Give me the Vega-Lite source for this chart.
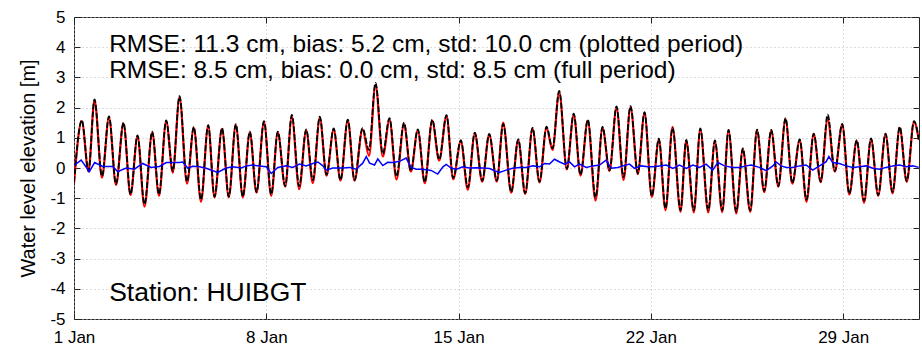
{
  "$schema": "https://vega.github.io/schema/vega-lite/v6.json",
  "autosize": "none",
  "width": 845,
  "height": 302,
  "padding": {"left": 74, "top": 17, "right": 3, "bottom": 34},
  "background": "white",
  "config": {
    "view": {"stroke": "#222", "strokeWidth": 1},
    "font": "Liberation Sans",
    "axis": {
      "labelFont": "Liberation Sans",
      "labelFontSize": 17,
      "labelColor": "#000",
      "titleFont": "Liberation Sans",
      "titleColor": "#000",
      "tickColor": "#222",
      "tickSize": -6,
      "domain": false,
      "gridColor": "#b8b8b8",
      "gridDash": [1, 3],
      "gridWidth": 1
    }
  },
  "datasets": {
    "tide": [
      {"t": 0, "mod": -0.48, "obs": -0.5},
      {"t": 0.284, "mod": 1.58, "obs": 1.55},
      {"t": 0.528, "mod": -0.1, "obs": -0.12},
      {"t": 0.746, "mod": 2.27, "obs": 2.25},
      {"t": 1.019, "mod": -0.27, "obs": -0.32},
      {"t": 1.274, "mod": 1.71, "obs": 1.68},
      {"t": 1.529, "mod": -0.53, "obs": -0.56},
      {"t": 1.802, "mod": 1.5, "obs": 1.48},
      {"t": 2.057, "mod": -0.87, "obs": -0.9},
      {"t": 2.312, "mod": 1.08, "obs": 1.05},
      {"t": 2.566, "mod": -1.2, "obs": -1.28},
      {"t": 2.847, "mod": 1.2, "obs": 1.17},
      {"t": 3.094, "mod": -0.87, "obs": -0.92},
      {"t": 3.356, "mod": 1.58, "obs": 1.55},
      {"t": 3.597, "mod": -0.1, "obs": -0.15},
      {"t": 3.841, "mod": 2.38, "obs": 2.35},
      {"t": 4.114, "mod": -0.45, "obs": -0.52},
      {"t": 4.361, "mod": 1.36, "obs": 1.33},
      {"t": 4.623, "mod": -1.05, "obs": -1.12},
      {"t": 4.885, "mod": 1.42, "obs": 1.4},
      {"t": 5.115, "mod": -0.95, "obs": -0.97},
      {"t": 5.388, "mod": 1.32, "obs": 1.3},
      {"t": 5.635, "mod": -0.95, "obs": -0.97},
      {"t": 5.89, "mod": 1.45, "obs": 1.43},
      {"t": 6.145, "mod": -0.95, "obs": -0.97},
      {"t": 6.4, "mod": 1.2, "obs": 1.18},
      {"t": 6.644, "mod": -0.8, "obs": -0.82},
      {"t": 6.917, "mod": 1.55, "obs": 1.53},
      {"t": 7.179, "mod": -0.87, "obs": -0.92},
      {"t": 7.419, "mod": 1.2, "obs": 1.18},
      {"t": 7.688, "mod": -0.6, "obs": -0.62},
      {"t": 7.929, "mod": 1.76, "obs": 1.7},
      {"t": 8.198, "mod": -0.6, "obs": -0.7},
      {"t": 8.453, "mod": 1.28, "obs": 1.25},
      {"t": 8.693, "mod": -0.4, "obs": -0.5},
      {"t": 8.948, "mod": 1.7, "obs": 1.66},
      {"t": 9.192, "mod": -0.22, "obs": -0.25},
      {"t": 9.454, "mod": 1.31, "obs": 1.28},
      {"t": 9.701, "mod": -0.4, "obs": -0.42},
      {"t": 9.967, "mod": 1.6, "obs": 1.58},
      {"t": 10.211, "mod": -0.4, "obs": -0.42},
      {"t": 10.502, "mod": 1.32, "obs": 1.28},
      {"t": 10.739, "mod": 0.6, "obs": 0.4},
      {"t": 10.976, "mod": 2.82, "obs": 2.75},
      {"t": 11.241, "mod": 0.47, "obs": 0.38},
      {"t": 11.485, "mod": 1.65, "obs": 1.6},
      {"t": 11.74, "mod": -0.28, "obs": -0.38},
      {"t": 12.013, "mod": 1.5, "obs": 1.45},
      {"t": 12.261, "mod": -0.1, "obs": -0.12},
      {"t": 12.515, "mod": 1.28, "obs": 1.25},
      {"t": 12.77, "mod": -0.47, "obs": -0.5},
      {"t": 13.04, "mod": 1.6, "obs": 1.57},
      {"t": 13.294, "mod": 0.28, "obs": 0.25},
      {"t": 13.56, "mod": 1.75, "obs": 1.72},
      {"t": 13.804, "mod": -0.33, "obs": -0.37},
      {"t": 14.081, "mod": 0.92, "obs": 0.88},
      {"t": 14.336, "mod": -0.64, "obs": -0.72},
      {"t": 14.59, "mod": 1.17, "obs": 1.14},
      {"t": 14.86, "mod": -0.42, "obs": -0.45},
      {"t": 15.115, "mod": 1.13, "obs": 1.1},
      {"t": 15.391, "mod": -0.42, "obs": -0.45},
      {"t": 15.624, "mod": 1.46, "obs": 1.5},
      {"t": 15.916, "mod": -0.79, "obs": -0.82},
      {"t": 16.171, "mod": 0.95, "obs": 0.92},
      {"t": 16.425, "mod": -0.83, "obs": -0.86},
      {"t": 16.691, "mod": 1.33, "obs": 1.3},
      {"t": 16.946, "mod": -0.45, "obs": -0.48},
      {"t": 17.2, "mod": 1.37, "obs": 1.33},
      {"t": 17.419, "mod": 0.65, "obs": 0.6},
      {"t": 17.663, "mod": 2.55, "obs": 2.52},
      {"t": 17.94, "mod": -0.02, "obs": -0.05},
      {"t": 18.191, "mod": 1.8, "obs": 1.77},
      {"t": 18.438, "mod": -0.22, "obs": -0.25},
      {"t": 18.704, "mod": 1.6, "obs": 1.57},
      {"t": 18.985, "mod": -0.98, "obs": -1.08},
      {"t": 19.239, "mod": 1.36, "obs": 1.33},
      {"t": 19.494, "mod": -0.08, "obs": -0.1},
      {"t": 19.749, "mod": 2.04, "obs": 2.0},
      {"t": 20.004, "mod": -0.3, "obs": -0.4},
      {"t": 20.259, "mod": 2.05, "obs": 2.02},
      {"t": 20.524, "mod": -0.18, "obs": -0.2},
      {"t": 20.768, "mod": 1.85, "obs": 1.82},
      {"t": 21.034, "mod": -0.93, "obs": -0.96},
      {"t": 21.289, "mod": 0.97, "obs": 0.94},
      {"t": 21.533, "mod": -1.34, "obs": -1.4},
      {"t": 21.788, "mod": 1.33, "obs": 1.36},
      {"t": 22.079, "mod": -1.4, "obs": -1.45},
      {"t": 22.286, "mod": 0.93, "obs": 0.9},
      {"t": 22.563, "mod": -1.4, "obs": -1.47},
      {"t": 22.799, "mod": 1.31, "obs": 1.28},
      {"t": 23.087, "mod": -1.4, "obs": -1.47},
      {"t": 23.331, "mod": 0.91, "obs": 0.88},
      {"t": 23.597, "mod": -1.4, "obs": -1.46},
      {"t": 23.826, "mod": 1.26, "obs": 1.24},
      {"t": 24.107, "mod": -1.45, "obs": -1.5},
      {"t": 24.347, "mod": 0.65, "obs": 0.62},
      {"t": 24.616, "mod": -1.4, "obs": -1.45},
      {"t": 24.864, "mod": 1.27, "obs": 1.25},
      {"t": 25.125, "mod": -0.76, "obs": -0.8},
      {"t": 25.381, "mod": 1.26, "obs": 1.24},
      {"t": 25.639, "mod": -0.6, "obs": -0.62},
      {"t": 25.901, "mod": 1.65, "obs": 1.62},
      {"t": 26.149, "mod": -0.5, "obs": -0.52},
      {"t": 26.418, "mod": 0.95, "obs": 0.92},
      {"t": 26.665, "mod": -1.05, "obs": -1.12},
      {"t": 26.927, "mod": 1.14, "obs": 1.12},
      {"t": 27.182, "mod": -0.45, "obs": -0.47},
      {"t": 27.436, "mod": 1.77, "obs": 1.62},
      {"t": 27.695, "mod": -0.1, "obs": -0.12},
      {"t": 27.965, "mod": 1.46, "obs": 1.43},
      {"t": 28.223, "mod": -0.85, "obs": -0.88},
      {"t": 28.493, "mod": 0.92, "obs": 0.9},
      {"t": 28.759, "mod": -1.08, "obs": -1.15},
      {"t": 29.013, "mod": 0.98, "obs": 0.96},
      {"t": 29.275, "mod": -0.9, "obs": -0.92},
      {"t": 29.541, "mod": 1.14, "obs": 1.12},
      {"t": 29.796, "mod": -0.8, "obs": -0.84},
      {"t": 30.059, "mod": 1.36, "obs": 1.33},
      {"t": 30.313, "mod": -0.43, "obs": -0.46},
      {"t": 30.579, "mod": 1.55, "obs": 1.53},
      {"t": 30.753, "mod": 0.95, "obs": 0.93}
    ],
    "resid": [
      {"t": 0.02, "r": 0.1}, {"t": 0.26, "r": 0.26}, {"t": 0.56, "r": -0.12}, {"t": 0.75, "r": 0.18},
      {"t": 1.05, "r": 0.05}, {"t": 1.41, "r": 0.05}, {"t": 1.59, "r": -0.12}, {"t": 1.9, "r": 0},
      {"t": 2.2, "r": -0.04}, {"t": 2.5, "r": 0.15}, {"t": 2.81, "r": 0.02}, {"t": 3.11, "r": 0.05},
      {"t": 3.36, "r": 0.18}, {"t": 3.84, "r": 0.18}, {"t": 3.96, "r": 0.2}, {"t": 4.14, "r": 0},
      {"t": 4.32, "r": 0.06}, {"t": 4.57, "r": 0.04}, {"t": 4.81, "r": -0.01}, {"t": 5.23, "r": -0.15},
      {"t": 5.54, "r": 0}, {"t": 5.78, "r": 0.04}, {"t": 6.09, "r": 0}, {"t": 6.27, "r": 0.07},
      {"t": 6.51, "r": 0.1}, {"t": 6.75, "r": 0.07}, {"t": 7.0, "r": 0.04}, {"t": 7.18, "r": -0.18},
      {"t": 7.42, "r": 0.02}, {"t": 7.72, "r": 0.07}, {"t": 7.96, "r": 0.02}, {"t": 8.21, "r": 0.13},
      {"t": 8.45, "r": 0.07}, {"t": 8.69, "r": 0.15}, {"t": 8.88, "r": 0.2}, {"t": 9.06, "r": 0.07},
      {"t": 9.18, "r": -0.07}, {"t": 9.42, "r": 0}, {"t": 9.79, "r": 0}, {"t": 10.03, "r": 0.02},
      {"t": 10.27, "r": -0.04}, {"t": 10.51, "r": 0.16}, {"t": 10.64, "r": 0.38}, {"t": 10.76, "r": 0.16},
      {"t": 10.94, "r": 0.1}, {"t": 11.06, "r": 0.3}, {"t": 11.24, "r": 0.08}, {"t": 11.42, "r": 0.19},
      {"t": 11.61, "r": 0.18}, {"t": 11.85, "r": 0.22}, {"t": 12.09, "r": 0.33}, {"t": 12.27, "r": 0.02},
      {"t": 12.46, "r": -0.04}, {"t": 12.7, "r": -0.04}, {"t": 13.0, "r": -0.08}, {"t": 13.24, "r": -0.2},
      {"t": 13.43, "r": 0.04}, {"t": 13.55, "r": 0.12}, {"t": 13.73, "r": 0}, {"t": 13.91, "r": -0.05},
      {"t": 14.15, "r": 0.04}, {"t": 14.4, "r": 0}, {"t": 14.64, "r": 0.01}, {"t": 14.88, "r": 0},
      {"t": 15.13, "r": -0.02}, {"t": 15.33, "r": -0.1}, {"t": 15.49, "r": -0.15}, {"t": 15.73, "r": -0.07},
      {"t": 15.97, "r": -0.01}, {"t": 16.22, "r": 0.02}, {"t": 16.46, "r": 0.02}, {"t": 16.7, "r": 0.07},
      {"t": 16.95, "r": 0.04}, {"t": 17.13, "r": 0.15}, {"t": 17.31, "r": 0.13}, {"t": 17.49, "r": 0.29},
      {"t": 17.68, "r": 0.2}, {"t": 17.86, "r": 0.13}, {"t": 18.04, "r": 0.2}, {"t": 18.22, "r": 0.04},
      {"t": 18.4, "r": 0.13}, {"t": 18.65, "r": 0.02}, {"t": 18.89, "r": 0.07}, {"t": 19.13, "r": 0.1},
      {"t": 19.37, "r": 0.26}, {"t": 19.56, "r": -0.01}, {"t": 19.8, "r": 0.02}, {"t": 19.98, "r": 0.07},
      {"t": 20.22, "r": 0.13}, {"t": 20.4, "r": -0.01}, {"t": 20.65, "r": 0.07}, {"t": 20.89, "r": 0.04},
      {"t": 21.07, "r": 0.04}, {"t": 21.31, "r": 0.07}, {"t": 21.56, "r": 0.1}, {"t": 21.8, "r": -0.01},
      {"t": 22.04, "r": 0.1}, {"t": 22.29, "r": -0.01}, {"t": 22.53, "r": 0.1}, {"t": 22.77, "r": 0.02},
      {"t": 23.01, "r": 0.13}, {"t": 23.25, "r": -0.07}, {"t": 23.44, "r": 0.18}, {"t": 23.68, "r": 0.07},
      {"t": 23.98, "r": 0.02}, {"t": 24.23, "r": 0.02}, {"t": 24.47, "r": 0.07}, {"t": 24.65, "r": 0.1},
      {"t": 24.95, "r": 0.02}, {"t": 25.2, "r": -0.09}, {"t": 25.44, "r": 0.07}, {"t": 25.56, "r": 0.2},
      {"t": 25.74, "r": 0.07}, {"t": 25.93, "r": 0.02}, {"t": 26.17, "r": 0.02}, {"t": 26.41, "r": 0.07},
      {"t": 26.65, "r": 0.1}, {"t": 26.89, "r": -0.07}, {"t": 27.14, "r": 0.07}, {"t": 27.38, "r": 0.21},
      {"t": 27.48, "r": 0.38}, {"t": 27.62, "r": 0.18}, {"t": 27.86, "r": 0.15}, {"t": 28.11, "r": 0.07},
      {"t": 28.35, "r": 0.02}, {"t": 28.59, "r": 0.04}, {"t": 28.84, "r": 0.07}, {"t": 29.08, "r": -0.01},
      {"t": 29.32, "r": -0.04}, {"t": 29.56, "r": 0.02}, {"t": 29.81, "r": 0.07}, {"t": 30.05, "r": 0.1},
      {"t": 30.29, "r": 0.04}, {"t": 30.53, "r": 0.07}, {"t": 30.75, "r": 0.02}
    ],
    "stats": [
      {"t": 1.28, "v": 4.07, "label": "RMSE: 11.3 cm, bias: 5.2 cm, std: 10.0 cm (plotted period)"},
      {"t": 1.28, "v": 3.2, "label": "RMSE: 8.5 cm, bias: 0.0 cm, std: 8.5 cm (full period)"}
    ],
    "station": [
      {"t": 1.28, "v": -4.15, "label": "Station: HUIBGT"}
    ]
  },
  "resolve": {"axis": {"x": "independent", "y": "independent"}},
  "layer": [
    {
      "data": {"name": "tide"},
      "mark": {"type": "line", "interpolate": "monotone", "color": "#ff0000", "strokeWidth": 2.2, "clip": true},
      "encoding": {
        "x": {"field": "t", "type": "quantitative", "scale": {"domain": [0, 30.76], "nice": false, "zero": false},
          "axis": {"values": [0, 7, 14, 21, 28], "labelExpr": "(datum.value + 1) + ' Jan'", "grid": true, "labelPadding": 16, "labelFlush": false, "title": null}},
        "y": {"field": "obs", "type": "quantitative", "scale": {"domain": [-5, 5], "nice": false, "zero": false},
          "axis": {"values": [-5, -4, -3, -2, -1, 0, 1, 2, 3, 4, 5], "labelExpr": "'' + datum.value", "grid": true, "labelPadding": 15, "labelFlush": false,
            "title": "Water level elevation [m]", "titleFontSize": 20, "titleFontWeight": "normal", "titlePadding": 11}}
      }
    },
    {
      "data": {"name": "tide"},
      "mark": {"type": "line", "interpolate": "monotone", "color": "#000000", "strokeWidth": 1.8, "strokeDash": [6, 2], "clip": true},
      "encoding": {
        "x": {"field": "t", "type": "quantitative", "axis": null},
        "y": {"field": "mod", "type": "quantitative", "axis": null}
      }
    },
    {
      "data": {"name": "resid"},
      "mark": {"type": "line", "color": "#0000ff", "strokeWidth": 1.5, "clip": true},
      "encoding": {
        "x": {"field": "t", "type": "quantitative",
          "axis": {"orient": "top", "values": [0, 7, 14, 21, 28], "labels": false, "grid": false, "title": null}},
        "y": {"field": "r", "type": "quantitative",
          "axis": {"orient": "right", "values": [-5, -4, -3, -2, -1, 0, 1, 2, 3, 4, 5], "labels": false, "grid": false, "title": null}}
      }
    },
    {
      "data": {"name": "stats"},
      "mark": {"type": "text", "align": "left", "baseline": "middle", "font": "Liberation Sans", "fontSize": 24.5, "color": "#000"},
      "encoding": {
        "x": {"field": "t", "type": "quantitative", "axis": null},
        "y": {"field": "v", "type": "quantitative", "axis": null},
        "text": {"field": "label"}
      }
    },
    {
      "data": {"name": "station"},
      "mark": {"type": "text", "align": "left", "baseline": "middle", "font": "Liberation Sans", "fontSize": 26.5, "color": "#000"},
      "encoding": {
        "x": {"field": "t", "type": "quantitative", "axis": null},
        "y": {"field": "v", "type": "quantitative", "axis": null},
        "text": {"field": "label"}
      }
    }
  ]
}
